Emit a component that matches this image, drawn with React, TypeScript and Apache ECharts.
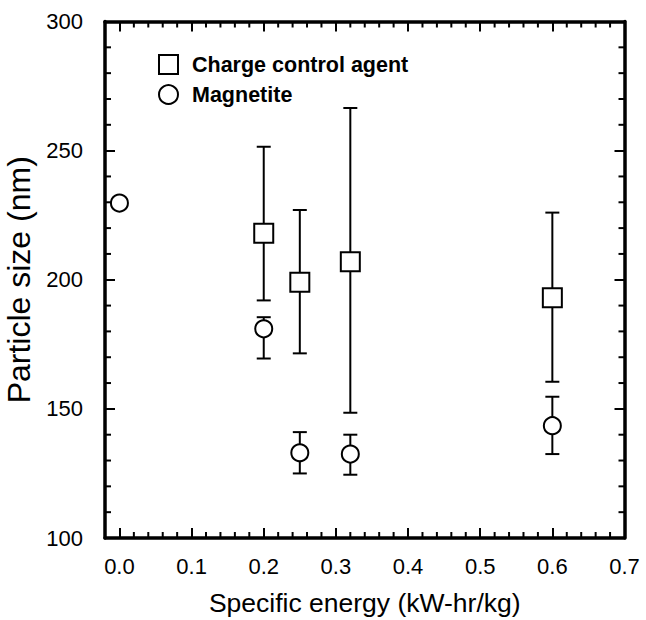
import React, { useEffect, useRef } from "react";
import * as echarts from "echarts";

// Charge control agent (squares)
const chargeX = [0.2, 0.25, 0.32, 0.6];
const chargeY = [218, 199, 207, 193];
const chargeLow = [192, 171.5, 148.5, 160.5];
const chargeHigh = [251.5, 227, 266.5, 226];

// Magnetite (circles)
const magX = [0.0, 0.2, 0.25, 0.32, 0.6];
const magY = [229.7, 181, 133, 132.5, 143.5];
const magLow: (number | null)[] = [null, 169.5, 125, 124.5, 132.5];
const magHigh: (number | null)[] = [null, 185.5, 141, 140, 154.7];

// Axis ticks
const xMin = -0.02;
const xMax = 0.7;
const xMajorTicks = [0, 0.1, 0.2, 0.3, 0.4, 0.5, 0.6, 0.7];
const xLabels = ["0.0", "0.1", "0.2", "0.3", "0.4", "0.5", "0.6", "0.7"];
const xMinorTicks = [
  0.02, 0.04, 0.06, 0.08, 0.12, 0.14, 0.16, 0.18, 0.22, 0.24, 0.26, 0.28, 0.32, 0.34, 0.36, 0.38,
  0.42, 0.44, 0.46, 0.48, 0.52, 0.54, 0.56, 0.58, 0.62, 0.64, 0.66, 0.68,
];
const yMin = 100;
const yMax = 300;
const yInterval = 50;
const yMajorTicks = [100, 150, 200, 250, 300];
const yMinorTicks = [
  110, 120, 130, 140, 160, 170, 180, 190, 210, 220, 230, 240, 260, 270, 280, 290,
];

const FONT = "'Liberation Sans', Arial, Helvetica, sans-serif";

export default function App() {
  const ref = useRef<HTMLDivElement>(null);

  useEffect(() => {
    if (!ref.current) return;
    const chart = echarts.init(ref.current, null, { renderer: "svg" });

    const lineStyle = { color: "#000", width: 3.5 };
    const tickStyle = { color: "#000", width: 2 };
    const MINOR_LEN = 6;

    const chargeErr = chargeX.map((x, i) => [x, chargeLow[i], chargeHigh[i]]);
    const magErr = magX
      .map((x, i) => [x, magLow[i], magHigh[i]])
      .filter((d) => d[1] !== null && d[2] !== null);

    const renderErr = (params: any, api: any) => {
      const x = api.value(0);
      const lo = api.value(1);
      const hi = api.value(2);
      const p1 = api.coord([x, hi]);
      const p2 = api.coord([x, lo]);
      const hw = 7;
      const st = { stroke: "#000", lineWidth: 2 };
      return {
        type: "group",
        children: [
          { type: "line", shape: { x1: p1[0], y1: p1[1], x2: p2[0], y2: p2[1] }, style: st },
          { type: "line", shape: { x1: p1[0] - hw, y1: p1[1], x2: p1[0] + hw, y2: p1[1] }, style: st },
          { type: "line", shape: { x1: p2[0] - hw, y1: p2[1], x2: p2[0] + hw, y2: p2[1] }, style: st },
        ],
      };
    };

    // minor ticks on bottom & top (x) or left & right (y), mirrored inside the frame
    const renderMinorX = (params: any, api: any) => {
      const cs = params.coordSys;
      const p = api.coord([api.value(0), yMin]);
      const st = { stroke: "#000", lineWidth: 2 };
      const yb = cs.y + cs.height;
      const yt = cs.y;
      return {
        type: "group",
        children: [
          { type: "line", shape: { x1: p[0], y1: yb, x2: p[0], y2: yb - MINOR_LEN }, style: st },
          { type: "line", shape: { x1: p[0], y1: yt, x2: p[0], y2: yt + MINOR_LEN }, style: st },
        ],
      };
    };
    const renderMinorY = (params: any, api: any) => {
      const cs = params.coordSys;
      const p = api.coord([xMin, api.value(1)]);
      const st = { stroke: "#000", lineWidth: 2 };
      const xl = cs.x;
      const xr = cs.x + cs.width;
      return {
        type: "group",
        children: [
          { type: "line", shape: { x1: xl, y1: p[1], x2: xl + MINOR_LEN, y2: p[1] }, style: st },
          { type: "line", shape: { x1: xr, y1: p[1], x2: xr - MINOR_LEN, y2: p[1] }, style: st },
        ],
      };
    };

    const xBase = {
      type: "value",
      min: xMin,
      max: xMax,
      splitLine: { show: false },
    };
    const yBase = {
      type: "value",
      min: yMin,
      max: yMax,
      interval: yInterval,
      splitLine: { show: false },
    };

    chart.setOption({
      animation: false,
      backgroundColor: "#fff",
      textStyle: { fontFamily: FONT },
      grid: {
        left: 105,
        right: 21.5,
        top: 21.5,
        bottom: 82,
        containLabel: false,
        outerBoundsMode: "none",
      },
      legend: {
        orient: "vertical",
        left: 153,
        top: 48.5,
        itemWidth: 19,
        itemHeight: 19,
        itemGap: 8,
        textStyle: {
          fontSize: 21.5,
          fontWeight: "bold",
          color: "#000",
          fontFamily: FONT,
          padding: [0, 0, 0, 9],
        },
        data: [
          { name: "Charge control agent", icon: "rect" },
          { name: "Magnetite", icon: "circle" },
        ],
      },
      xAxis: [
        {
          ...xBase,
          position: "bottom",
          axisLine: { show: true, onZero: false, lineStyle },
          axisTick: { show: true, inside: true, length: 10, lineStyle: tickStyle, customValues: xMajorTicks },
          axisLabel: {
            customValues: xMajorTicks,
            formatter: (v: number) => xLabels[xMajorTicks.findIndex((t) => Math.abs(t - v) < 1e-9)] ?? "",
            fontSize: 22,
            color: "#000",
            margin: 17,
            fontFamily: FONT,
          },
          name: "Specific energy (kW-hr/kg)",
          nameLocation: "middle",
          nameGap: 51,
          nameTextStyle: { fontSize: 26.5, color: "#000", fontFamily: FONT },
        },
        {
          ...xBase,
          position: "top",
          axisLine: { show: true, onZero: false, lineStyle },
          axisTick: { show: true, inside: true, length: 10, lineStyle: tickStyle, customValues: xMajorTicks },
          axisLabel: { show: false },
        },
      ],
      yAxis: [
        {
          ...yBase,
          position: "left",
          axisLine: { show: true, onZero: false, lineStyle },
          axisTick: { show: true, inside: true, length: 10, lineStyle: tickStyle, customValues: yMajorTicks },
          axisLabel: { fontSize: 22, color: "#000", margin: 22, fontFamily: FONT },
          name: "Particle size (nm)",
          nameLocation: "middle",
          nameGap: 65,
          nameTextStyle: { fontSize: 32, color: "#000", fontFamily: FONT },
        },
        {
          ...yBase,
          position: "right",
          axisLine: { show: true, onZero: false, lineStyle },
          axisTick: { show: true, inside: true, length: 10, lineStyle: tickStyle, customValues: yMajorTicks },
          axisLabel: { show: false },
        },
      ],
      series: [
        {
          name: "x minor ticks",
          type: "custom",
          xAxisIndex: 0,
          yAxisIndex: 0,
          renderItem: renderMinorX,
          encode: { x: 0, y: 1 },
          data: xMinorTicks.map((v) => [v, yMin]),
          z: 5,
          silent: true,
          clip: false,
        },
        {
          name: "y minor ticks",
          type: "custom",
          xAxisIndex: 0,
          yAxisIndex: 0,
          renderItem: renderMinorY,
          encode: { x: 0, y: 1 },
          data: yMinorTicks.map((v) => [xMin, v]),
          z: 5,
          silent: true,
          clip: false,
        },
        {
          name: "Charge control agent err",
          type: "custom",
          xAxisIndex: 0,
          yAxisIndex: 0,
          renderItem: renderErr,
          encode: { x: 0, y: [1, 2] },
          data: chargeErr,
          z: 1,
          silent: true,
        },
        {
          name: "Magnetite err",
          type: "custom",
          xAxisIndex: 0,
          yAxisIndex: 0,
          renderItem: renderErr,
          encode: { x: 0, y: [1, 2] },
          data: magErr,
          z: 1,
          silent: true,
        },
        {
          name: "Charge control agent",
          type: "scatter",
          xAxisIndex: 0,
          yAxisIndex: 0,
          symbol: "rect",
          symbolSize: 19,
          itemStyle: { color: "#fff", borderColor: "#000", borderWidth: 2, opacity: 1 },
          data: chargeX.map((x, i) => [x, chargeY[i]]),
          z: 3,
        },
        {
          name: "Magnetite",
          type: "scatter",
          xAxisIndex: 0,
          yAxisIndex: 0,
          symbol: "circle",
          symbolSize: 17,
          itemStyle: { color: "#fff", borderColor: "#000", borderWidth: 2, opacity: 1 },
          data: magX.map((x, i) => [x, magY[i]]),
          z: 3,
        },
      ],
    });

    return () => chart.dispose();
  }, []);

  return (
    <div
      ref={ref}
      style={{ position: "absolute", left: 0, top: 0, width: 646, height: 620, background: "#fff" }}
    />
  );
}
